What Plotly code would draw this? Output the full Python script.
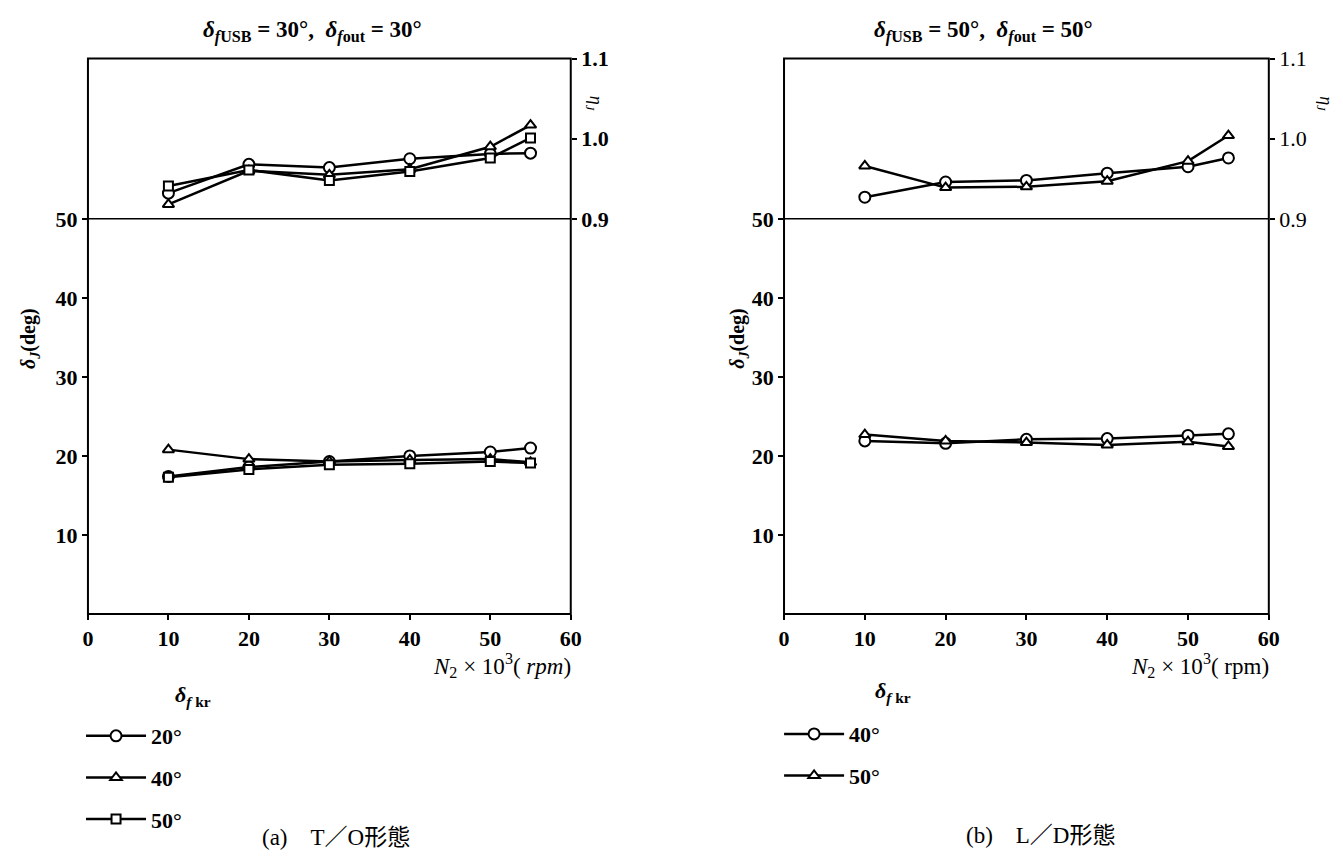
import plotly.graph_objects as go

# Rotor speed N2 (x 10^3 rpm)
n2 = [10, 20, 30, 40, 50, 55]

# (a) T/O configuration: delta_fkr = 20, 40, 50 deg
to_labels = ["20°", "40°", "50°"]
to_eta_20 = [0.932, 0.968, 0.964, 0.975, 0.981, 0.982]
to_eta_40 = [0.918, 0.960, 0.955, 0.962, 0.990, 1.017]
to_eta_50 = [0.941, 0.961, 0.948, 0.959, 0.976, 1.001]
to_delta_20 = [17.4, 18.6, 19.3, 20.0, 20.5, 21.0]
to_delta_40 = [20.8, 19.6, 19.3, 19.5, 19.6, 19.2]
to_delta_50 = [17.3, 18.3, 18.9, 19.0, 19.3, 19.1]

# (b) L/D configuration: delta_fkr = 40, 50 deg
ld_labels = ["40°", "50°"]
ld_eta_40 = [0.927, 0.946, 0.948, 0.957, 0.965, 0.976]
ld_eta_50 = [0.966, 0.939, 0.940, 0.947, 0.972, 1.004]
ld_delta_40 = [21.9, 21.6, 22.1, 22.2, 22.6, 22.8]
ld_delta_50 = [22.7, 21.9, 21.7, 21.4, 21.8, 21.2]

x_ticks = [0, 10, 20, 30, 40, 50, 60]
delta_ticks = [10, 20, 30, 40, 50]
eta_ticks = [0.9, 1.0, 1.1]
eta_ticktext = ["0.9", "1.0", "1.1"]

W, H = 1343, 863
SERIF = "Liberation Serif, Times New Roman, Noto Sans CJK JP, serif"

# panel geometry (paper fractions)
LX = (83 / W, 572 / W)
RX = (788 / W, 1279 / W)
Y_BOT = 1 - 620 / H
Y_MID = 1 - 213 / H
Y_TOP = 1 - 48 / H

symbols = {"o": "circle", "t": "triangle-up", "s": "square"}
sizes = {"o": 11, "t": 10, "s": 9}

fig = go.Figure()


def add_series(xa, ya_delta, ya_eta, eta, delta, sym, name, legend):
    marker = dict(symbol=symbols[sym], size=sizes[sym], color="white",
                  line=dict(color="black", width=2))
    fig.add_trace(go.Scatter(x=n2, y=delta, xaxis=xa, yaxis=ya_delta,
                             mode="lines+markers", name=name,
                             line=dict(color="black", width=2.5),
                             marker=marker, legend=legend,
                             legendgroup=legend + name, showlegend=True))
    fig.add_trace(go.Scatter(x=n2, y=eta, xaxis=xa, yaxis=ya_eta,
                             mode="lines+markers", name=name,
                             line=dict(color="black", width=2.5),
                             marker=marker, legend=legend,
                             legendgroup=legend + name, showlegend=False))


add_series("x", "y", "y2", to_eta_20, to_delta_20, "o", to_labels[0], "legend")
add_series("x", "y", "y2", to_eta_40, to_delta_40, "t", to_labels[1], "legend")
add_series("x", "y", "y2", to_eta_50, to_delta_50, "s", to_labels[2], "legend")
add_series("x2", "y3", "y4", ld_eta_40, ld_delta_40, "o", ld_labels[0], "legend2")
add_series("x2", "y3", "y4", ld_eta_50, ld_delta_50, "t", ld_labels[1], "legend2")

tick_font_b = dict(family=SERIF, size=22, color="black", weight="bold")
tick_font_r = dict(family=SERIF, size=22, color="black")

common_x = dict(range=[0, 60], tickvals=x_ticks, ticks="outside", ticklen=5,
                tickwidth=2, tickcolor="black", showgrid=False, zeroline=False,
                showline=False, tickfont=tick_font_b, fixedrange=True)
common_d = dict(range=[0, 50], tickvals=delta_ticks, ticks="outside", ticklen=5,
                tickwidth=2, tickcolor="black", showgrid=False, zeroline=False,
                showline=False, tickfont=tick_font_b, domain=[Y_BOT, Y_MID])
common_e = dict(range=[0.9, 1.1], tickvals=eta_ticks, ticktext=eta_ticktext,
                ticks="outside", ticklen=5, tickwidth=2, tickcolor="black",
                showgrid=False, zeroline=False, showline=False, side="right",
                domain=[Y_MID, Y_TOP])

legend_font = dict(family=SERIF, size=22, color="black", weight="bold")

fig.update_layout(
    width=W, height=H, margin=dict(l=0, r=0, t=0, b=0),
    paper_bgcolor="white", plot_bgcolor="white",
    xaxis=dict(domain=list(LX), anchor="y", **common_x),
    xaxis2=dict(domain=list(RX), anchor="y3", **common_x),
    yaxis=dict(anchor="x", **common_d),
    yaxis2=dict(anchor="x", tickfont=tick_font_b, **common_e),
    yaxis3=dict(anchor="x2", **common_d),
    yaxis4=dict(anchor="x2", tickfont=tick_font_r, **common_e),
    legend=dict(x=76 / W, y=1 - 724 / H, xanchor="left", yanchor="top",
                font=legend_font, itemwidth=60, tracegroupgap=10,
                bgcolor="rgba(0,0,0,0)", traceorder="grouped"),
    legend2=dict(x=783 / W, y=1 - 722 / H, xanchor="left", yanchor="top",
                 font=legend_font, itemwidth=60, tracegroupgap=10,
                 bgcolor="rgba(0,0,0,0)", traceorder="grouped"),
)

# frames and the dividing line between the eta and delta regions
for x0, x1 in (LX, RX):
    fig.add_shape(type="rect", xref="paper", yref="paper", x0=x0, x1=x1,
                  y0=Y_BOT, y1=Y_TOP, line=dict(color="black", width=2))
    fig.add_shape(type="line", xref="paper", yref="paper", x0=x0, x1=x1,
                  y0=Y_MID, y1=Y_MID, line=dict(color="black", width=1.5))


def ann(text, x, y, size=19, angle=0, xanchor="center", bold=True):
    fig.add_annotation(text=text, x=x / W, y=1 - y / H, xref="paper", yref="paper",
                       showarrow=False, textangle=angle, xanchor=xanchor,
                       yanchor="middle",
                       font=dict(family=SERIF, size=size, color="black",
                                 weight="bold" if bold else "normal"))


SP = "\u00a0"
ann(f"<i>δ</i><sub><i>f</i>USB</sub>{SP}={SP}30°,{SP}{SP}<i>δ</i><sub><i>f</i>out</sub>{SP}={SP}30°",
    310, 20, size=23)
ann(f"<i>δ</i><sub><i>f</i>USB</sub>{SP}={SP}50°,{SP}{SP}<i>δ</i><sub><i>f</i>out</sub>{SP}={SP}50°",
    990, 20, size=23)

ann("<i>δ</i><sub><i>J</i></sub>(deg)", 24, 336, size=20, angle=-90)
ann("<i>δ</i><sub><i>J</i></sub>(deg)", 742, 336, size=20, angle=-90)
ann("<i>η</i><sub><i>J</i></sub>", 596, 95, size=18, angle=90, bold=False)
ann("<i>η</i><sub><i>J</i></sub>", 1336, 95, size=18, angle=90, bold=False)

ann(f"<i>N</i><sub>2</sub>{SP}×{SP}10<sup>3</sup>({SP}<i>rpm</i>)", 574, 673, size=23,
    xanchor="right", bold=False)
ann(f"<i>N</i><sub>2</sub>{SP}×{SP}10<sup>3</sup>({SP}rpm)", 1281, 673, size=23,
    xanchor="right", bold=False)

ann("<i>δ</i><sub><i>f</i> kr</sub>", 189, 704, size=22)
ann("<i>δ</i><sub><i>f</i> kr</sub>", 898, 700, size=22)

ann(f"(a){SP}{SP}{SP}{SP}T／O形態", 334, 850, size=23, bold=False)
ann(f"(b){SP}{SP}{SP}{SP}L／D形態", 1048, 848, size=23, bold=False)

fig.write_html("out.html")
